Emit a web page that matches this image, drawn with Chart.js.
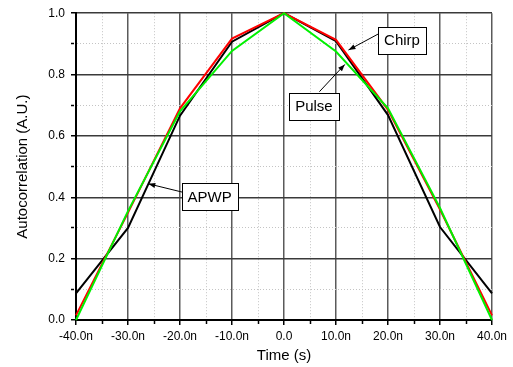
<!DOCTYPE html>
<html>
<head>
<meta charset="utf-8">
<script src="https://cdn.jsdelivr.net/npm/chart.js@4/dist/chart.umd.min.js"></script>
<style>
  html, body { margin: 0; padding: 0; background: #fff; }
  #wrap { width: 513px; height: 367px; position: relative; }
</style>
</head>
<body>
<div id="wrap"><canvas id="c" width="513" height="367"></canvas></div>
<script>
// Time axis in ns
const times = [-40, -30, -20, -10, 0, 10, 20, 30, 40];
const chirp = [0.015, 0.35, 0.69, 0.917, 1.0, 0.913, 0.685, 0.36, 0.015];
const pulse = [0.0, 0.355, 0.68, 0.877, 1.0, 0.875, 0.69, 0.365, 0.0];
const apwp  = [0.087, 0.30, 0.666, 0.907, 1.0, 0.909, 0.668, 0.303, 0.087];

const seriesNames = ['Chirp', 'Pulse', 'APWP'];

// Callout labels (in data units: ns, A.U.)
const callouts = [
  { text: 'Chirp', cx: 22.7, cy: 0.9125, ax: 18.1, ay: 0.932, tx: 12.4, ty: 0.880 },
  { text: 'Pulse', cx: 5.75, cy: 0.697, ax: 6.8, ay: 0.744, tx: 11.7, ty: 0.833 },
  { text: 'APWP', cx: -14.3, cy: 0.402, ax: -19.6, ay: 0.417, tx: -26.1, ty: 0.444 }
];

const FONT = "'Liberation Sans', Arial, Helvetica, sans-serif";

function pts(ys) { return times.map((t, i) => ({ x: t, y: ys[i] })); }

const calloutPlugin = {
  id: 'callouts',
  afterDatasetsDraw(chart) {
    const { ctx, scales: { x, y } } = chart;
    ctx.save();
    ctx.font = '15px ' + FONT;
    callouts.forEach(c => {
      const x1 = x.getPixelForValue(c.ax), y1 = y.getPixelForValue(c.ay);
      const x2 = x.getPixelForValue(c.tx), y2 = y.getPixelForValue(c.ty);
      ctx.strokeStyle = '#000';
      ctx.lineWidth = 1;
      ctx.beginPath();
      ctx.moveTo(x1, y1);
      ctx.lineTo(x2, y2);
      ctx.stroke();
      const ang = Math.atan2(y2 - y1, x2 - x1);
      const L = 7, W = 2.6;
      ctx.fillStyle = '#000';
      ctx.beginPath();
      ctx.moveTo(x2, y2);
      ctx.lineTo(x2 - L * Math.cos(ang) + W * Math.sin(ang), y2 - L * Math.sin(ang) - W * Math.cos(ang));
      ctx.lineTo(x2 - L * Math.cos(ang) - W * Math.sin(ang), y2 - L * Math.sin(ang) + W * Math.cos(ang));
      ctx.closePath();
      ctx.fill();
      const cx = x.getPixelForValue(c.cx), cy = y.getPixelForValue(c.cy);
      const tw = ctx.measureText(c.text).width;
      const bw = tw + 12, bh = 27;
      ctx.fillStyle = '#fff';
      ctx.fillRect(Math.round(cx - bw / 2) + 0.5, Math.round(cy - bh / 2) + 0.5, Math.round(bw), bh);
      ctx.strokeStyle = '#000';
      ctx.strokeRect(Math.round(cx - bw / 2) + 0.5, Math.round(cy - bh / 2) + 0.5, Math.round(bw), bh);
      ctx.fillStyle = '#000';
      ctx.textAlign = 'center';
      ctx.textBaseline = 'middle';
      ctx.fillText(c.text, cx, cy + 1);
    });
    ctx.restore();
  }
};

const isMajorX = v => Math.round(v) % 10 === 0;
const isMajorY = v => Math.round(v * 10) % 2 === 0;

new Chart(document.getElementById('c'), {
  type: 'line',
  data: {
    datasets: [
      { label: seriesNames[1], data: pts(pulse), borderColor: '#00f000', borderWidth: 2, pointRadius: 0, order: 0, clip: false, tension: 0 },
      { label: seriesNames[0], data: pts(chirp), borderColor: '#ff0000', borderWidth: 2, pointRadius: 0, order: 1, clip: false, tension: 0 },
      { label: seriesNames[2], data: pts(apwp), borderColor: '#000000', borderWidth: 2, pointRadius: 0, order: 2, clip: false, tension: 0 }
    ]
  },
  options: {
    responsive: false,
    animation: false,
    layout: { padding: { top: 13, right: 21, left: 0, bottom: 0 } },
    plugins: { legend: { display: false }, tooltip: { enabled: false } },
    scales: {
      x: {
        type: 'linear',
        min: -40, max: 40,
        afterFit: s => { s.height = 47; },
        ticks: {
          stepSize: 5,
          autoSkip: false,
          maxRotation: 0,
          padding: 4,
          color: '#000',
          font: { family: FONT, size: 12 },
          callback: v => isMajorX(v) ? (v === 0 ? '0.0' : v.toFixed(1) + 'n') : ''
        },
        grid: {
          color: c => c.tick && isMajorX(c.tick.value) ? '#5a5a5a' : '#c4c4c4',
          lineWidth: c => c.tick && isMajorX(c.tick.value) ? 1.5 : 1,
          tickColor: '#000',
          tickLength: 5,
          tickWidth: 1.5,
          tickBorderDash: c => c.tick && isMajorX(c.tick.value) ? [] : [3, 20]
        },
        border: {
          color: '#000', width: 2,
          dash: c => c.tick && !isMajorX(c.tick.value) ? [1, 2] : []
        },
        title: { display: true, text: 'Time (s)', color: '#000', font: { family: FONT, size: 15 }, padding: { top: 0, bottom: 2 } }
      },
      y: {
        type: 'linear',
        min: 0, max: 1,
        afterFit: s => { s.width = 76; },
        ticks: {
          stepSize: 0.1,
          autoSkip: false,
          padding: 6,
          color: '#000',
          font: { family: FONT, size: 12 },
          callback: v => isMajorY(v) ? v.toFixed(1) : ''
        },
        grid: {
          color: c => c.tick && isMajorY(c.tick.value) ? '#3a3a3a' : '#c4c4c4',
          lineWidth: c => c.tick && isMajorY(c.tick.value) ? 1.5 : 1,
          tickColor: '#000',
          tickLength: 5,
          tickWidth: 1.5,
          tickBorderDash: c => c.tick && isMajorY(c.tick.value) ? [] : [3, 20]
        },
        border: {
          color: '#000', width: 2,
          dash: c => c.tick && !isMajorY(c.tick.value) ? [1, 2] : []
        },
        title: { display: true, text: 'Autocorrelation (A.U.)', color: '#000', font: { family: FONT, size: 15 }, padding: { top: 14, bottom: 0 } }
      }
    }
  },
  plugins: [calloutPlugin]
});
</script>
</body>
</html>
